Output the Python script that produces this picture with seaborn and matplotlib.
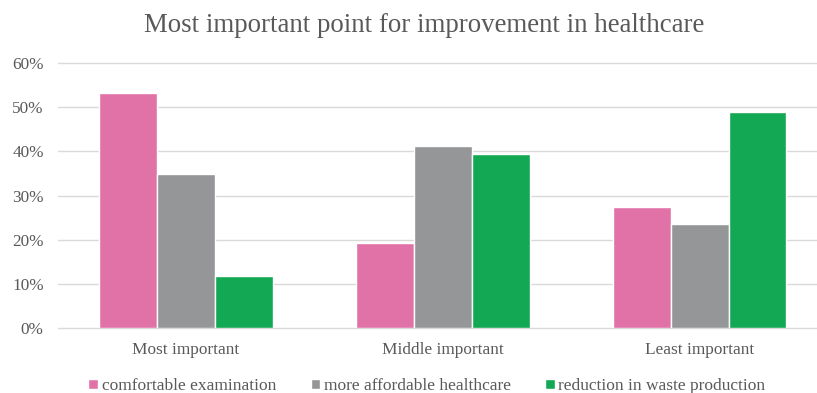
import matplotlib
matplotlib.use("Agg")
import matplotlib.pyplot as plt
import seaborn as sns
import pandas as pd
from matplotlib.ticker import FuncFormatter

categories = ["Most important", "Middle important", "Least important"]
series = ["comfortable examination", "more affordable healthcare", "reduction in waste production"]
comfortable = [53.2, 19.2, 27.5]
affordable = [34.8, 41.2, 23.5]
waste = [11.7, 39.4, 48.8]
colors = ["#E072A8", "#959698", "#12A854"]

rows = []
for s, vals in zip(series, [comfortable, affordable, waste]):
    for c, v in zip(categories, vals):
        rows.append({"category": c, "series": s, "value": v})
df = pd.DataFrame(rows)

sns.set_style("white")
plt.rcParams["font.family"] = ["Liberation Serif", "DejaVu Serif"]

fig = plt.figure(figsize=(8.17, 3.93), dpi=100)
ax = fig.add_axes([57.6/817, 1-328/393, 770.5/817, (328-63)/393])

sns.barplot(data=df, x="category", y="value", hue="series", palette=colors,
            saturation=1, width=0.675, edgecolor="white", linewidth=1.0, ax=ax, zorder=3)

ax.set_ylim(0, 60)
ax.set_yticks(range(0, 61, 10))
ax.yaxis.set_major_formatter(FuncFormatter(lambda v, p: f"{int(v)}%"))
ax.grid(axis="y", color="#D9D9D9", linewidth=1, zorder=0)
ax.set_axisbelow(True)
for gl in ax.get_ygridlines():
    gl.set_clip_on(False)
for sp in ax.spines.values():
    sp.set_visible(False)
ax.set_xlabel("")
ax.set_ylabel("")
ax.tick_params(axis="both", length=0, labelsize=12.4, colors="#595959")
ax.tick_params(axis="x", pad=10)
ax.tick_params(axis="y", pad=10)
for t in ax.get_xticklabels() + ax.get_yticklabels():
    t.set_fontfamily(["Liberation Serif", "DejaVu Serif"])

fig.text(424/817, 1-25/393, "Most important point for improvement in healthcare",
         ha="center", va="center", fontsize=19.4, color="#595959")

handles, labels = ax.get_legend_handles_labels()
ax.legend_.remove()
fig.legend(handles, labels, loc="center", bbox_to_anchor=(427/817, 1-386/393), ncol=3,
           frameon=False, fontsize=12.5, handlelength=0.55, handleheight=0.55,
           handletextpad=0.2, columnspacing=2.0, labelcolor="#595959")

fig.savefig("out.png", dpi=100)
